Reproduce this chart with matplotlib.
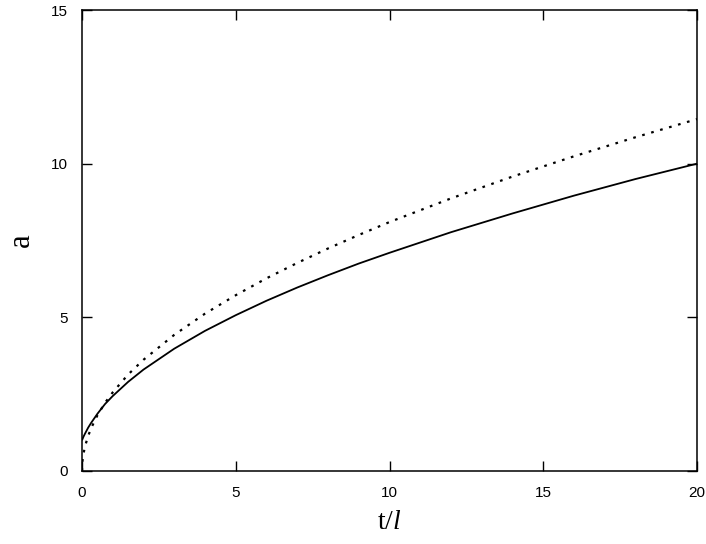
import matplotlib
matplotlib.use("Agg")
import matplotlib.pyplot as plt

plt.rcParams["mathtext.fontset"] = "custom"
plt.rcParams["mathtext.rm"] = "Liberation Serif"
plt.rcParams["mathtext.it"] = "Liberation Serif:italic"

# valores
t_solida = [0, 0.05, 0.1, 0.2, 0.3, 0.5, 0.75, 1, 1.5, 2, 3, 4, 5, 6, 7, 8, 9, 10, 12, 14, 16, 18, 20]
a_solida = [1.0, 1.12, 1.22, 1.41, 1.57, 1.86, 2.18, 2.44, 2.9, 3.3, 3.98, 4.56, 5.07, 5.54, 5.97,
            6.37, 6.75, 7.1, 7.77, 8.38, 8.96, 9.5, 10.0]

t_punteada = [0, 0.02, 0.05, 0.1, 0.2, 0.3, 0.5, 0.75, 1, 1.5, 2, 3, 4, 5, 6, 7, 8, 9, 10, 12, 14, 16, 18, 20]
a_punteada = [0, 0.36, 0.57, 0.81, 1.14, 1.40, 1.81, 2.22, 2.56, 3.14, 3.62, 4.43, 5.12, 5.72, 6.27,
              6.77, 7.24, 7.68, 8.1, 8.87, 9.58, 10.24, 10.86, 11.45]

x_ticks = [0, 5, 10, 15, 20]
y_ticks = [0, 5, 10, 15]

fig = plt.figure(figsize=(7.06, 5.44), dpi=100)
ax = fig.add_axes([82 / 706, 1 - 471 / 544, 615 / 706, 461 / 544])

ax.plot(t_solida, a_solida, color="black", lw=1.3, solid_capstyle="butt")
ax.plot(t_punteada, a_punteada, color="black", lw=1.6, linestyle=(0, (1.2, 3.0)))

ax.set_xlim(0, 20)
ax.set_ylim(0, 15)
ax.set_xticks(x_ticks)
ax.set_yticks(y_ticks)

for s in ax.spines.values():
    s.set_linewidth(1.1)

ax.tick_params(direction="in", length=7, width=1, top=True, right=True, labelsize=11)
ax.tick_params(axis="x", pad=11)
ax.tick_params(axis="y", pad=10)
for lab in ax.get_xticklabels() + ax.get_yticklabels():
    lab.set_family("Liberation Sans")

ax.set_xlabel(r"t/$\mathit{l}$", fontsize=20, family="Liberation Serif", labelpad=7)
ax.set_ylabel("a", fontsize=22, family="Liberation Serif", labelpad=11)

fig.savefig("out.png", dpi=100)
